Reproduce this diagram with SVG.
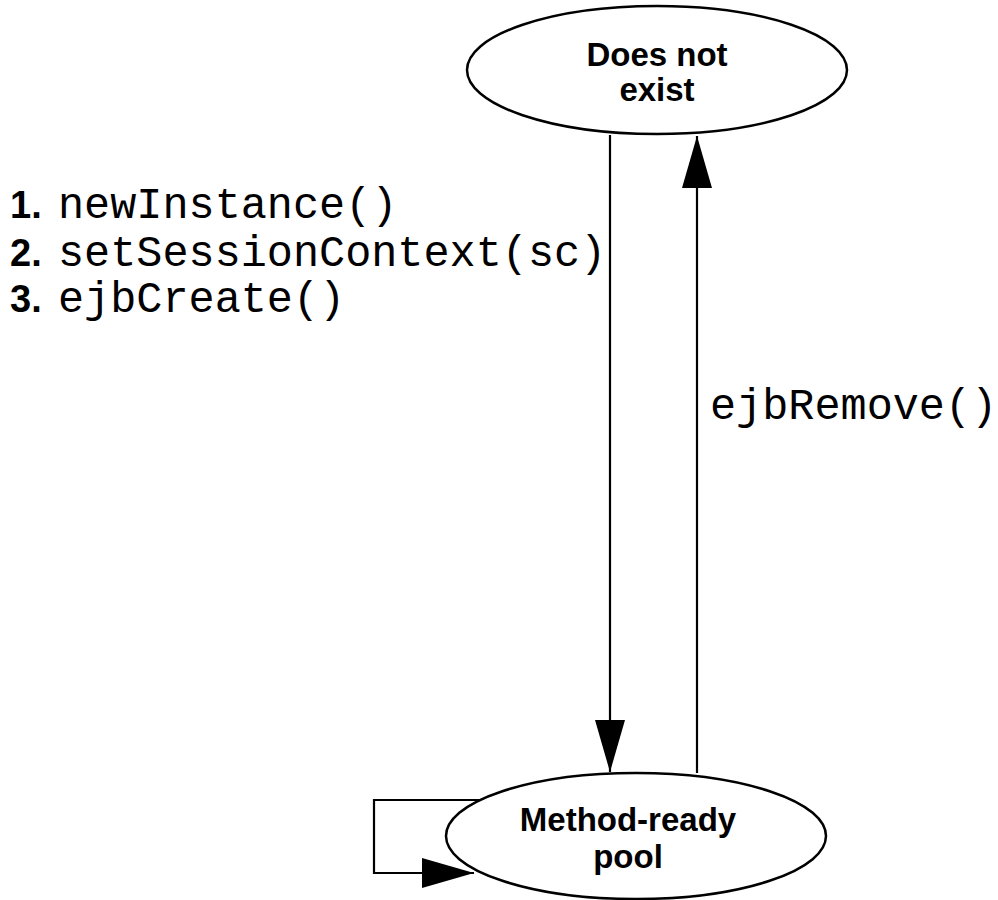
<svg xmlns="http://www.w3.org/2000/svg" width="998" height="900" viewBox="0 0 998 900">
<style>
.node{fill:#fff;stroke:#000;stroke-width:2.5}
.lbl{font-family:"Liberation Sans",Arial,sans-serif;font-weight:bold;font-size:33px;text-anchor:middle;fill:#000}
.edge{fill:none;stroke:#000;stroke-width:2.2}
.mono{font-family:"Liberation Mono","Courier New",monospace;font-size:43.5px;fill:#000}
.num{font-family:"Liberation Sans",Arial,sans-serif;font-weight:bold;font-size:38px;fill:#000}
</style>
<defs>
<marker id="ah" markerUnits="userSpaceOnUse" markerWidth="54" markerHeight="32" refX="52" refY="15" orient="auto">
<path d="M0,0 L52,15 L0,30 Z" fill="#000"/>
</marker>
</defs>
<rect width="998" height="900" fill="#fff"/>
<g id="connectors">
<line class="edge" x1="610" y1="135" x2="610" y2="772" marker-end="url(#ah)"/>
<line class="edge" x1="697" y1="773" x2="697" y2="136" marker-end="url(#ah)"/>
<polyline class="edge" points="481,800 374,800 374,873 474,873" marker-end="url(#ah)"/>
</g>
<g id="node-does-not-exist">
<ellipse class="node" cx="657" cy="70" rx="190" ry="64"/>
<text class="lbl" x="657" y="66">Does not</text>
<text class="lbl" x="657" y="101">exist</text>
</g>
<g id="node-method-ready-pool">
<ellipse class="node" cx="636" cy="836" rx="190" ry="63"/>
<text class="lbl" x="628" y="831">Method-ready</text>
<text class="lbl" x="628" y="868">pool</text>
</g>
<g id="labels">
<text x="10" y="218"><tspan class="num">1.</tspan><tspan class="mono" x="58">newInstance()</tspan></text>
<text x="10" y="266"><tspan class="num">2.</tspan><tspan class="mono" x="58">setSessionContext(sc)</tspan></text>
<text x="10" y="312"><tspan class="num">3.</tspan><tspan class="mono" x="58">ejbCreate()</tspan></text>
<text class="mono" x="710" y="419">ejbRemove()</text>
</g>
</svg>
